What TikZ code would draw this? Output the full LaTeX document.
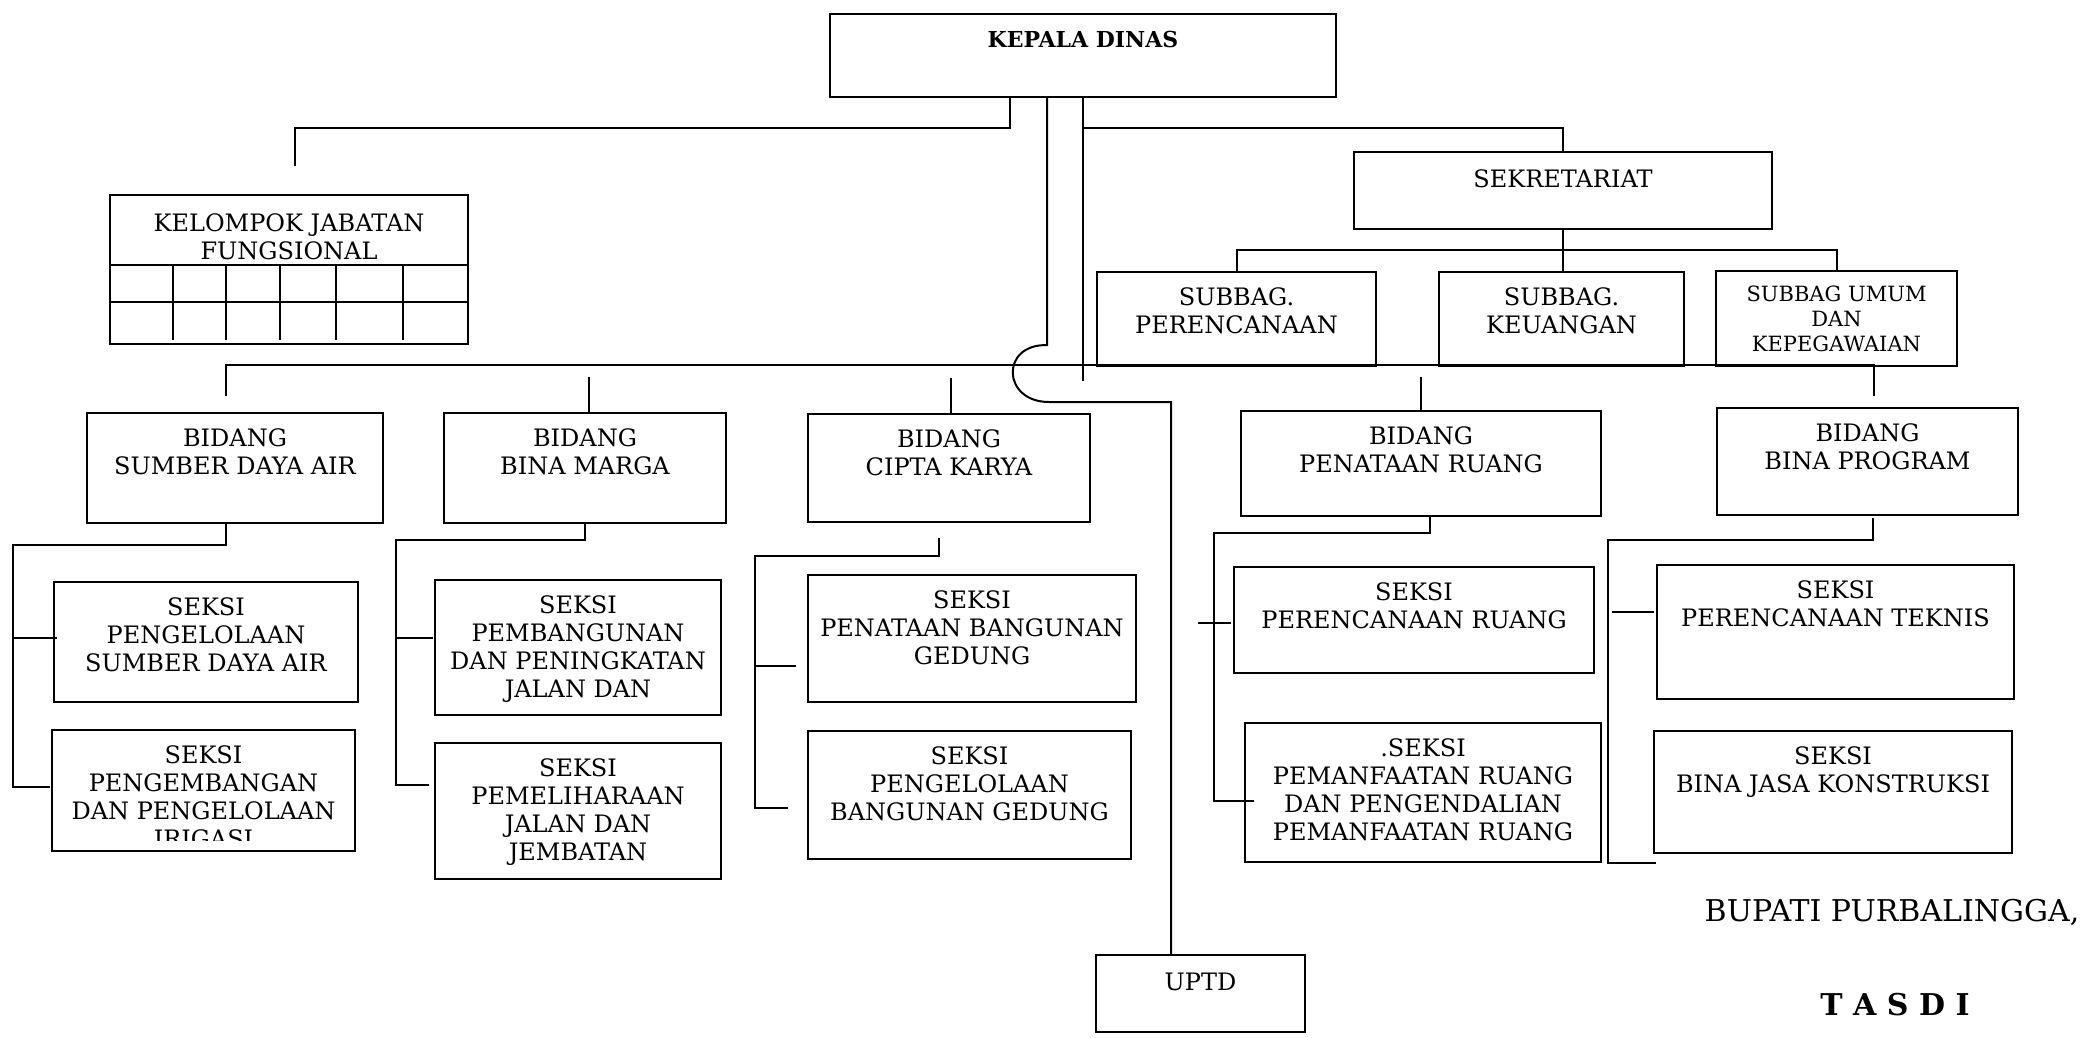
\documentclass[tikz,border=0pt]{standalone}
\usepackage{fontspec}
\setmainfont{DejaVu Serif}
\usetikzlibrary{positioning,calc}

\tikzset{
  box/.style={rectangle, draw, line width=1.1pt, inner sep=0pt},
  sz/.style 2 args={minimum width=#1*0.5pt, minimum height=#2*0.5pt},
  tx/.style={align=center, inner sep=0pt, font=\fontsize{12}{14}\selectfont, below=8pt of #1},
  con/.style={line width=1pt},
  sign/.style={inner sep=0pt, font=\fontsize{15}{18}\selectfont}
}

\begin{document}
\begin{tikzpicture}[x=0.5pt, y=-0.5pt]
\path[use as bounding box, fill=white] (0,0) rectangle (2083,1038);

% top
\node[box, sz={506}{83}] (kepala) at (1083,55.5) {};
\node[tx=kepala.north, yshift=-1pt, font=\fontsize{11}{13}\selectfont\bfseries] (kepalaT) {KEPALA DINAS};

\node[box, sz={358}{149}] (kel) at (289,269.5) {};
\node[tx=kel.north, yshift=-1.5pt] (kelT) {KELOMPOK JABATAN\\FUNGSIONAL};
\draw[con] ($(kel.north west)+(0,71)$) -- ($(kel.north east)+(0,71)$);
\draw[con] ($(kel.north west)+(0,108)$) -- ($(kel.north east)+(0,108)$);
\foreach \dx in {64,117,171,227,294}
  \draw[con] ($(kel.north west)+(\dx,71)$) -- ++(0,75);

\node[box, sz={418}{77}] (sek) at (1563,190.5) {};
\node[tx=sek.north, yshift=-1pt] (sekT) {SEKRETARIAT};

\node[box, sz={279}{94}] (sbren) at (1236.5,319) {};
\node[tx=sbren.north] (sbrenT) {SUBBAG.\\PERENCANAAN};
\node[box, sz={245}{94}] (sbkeu) at (1561.5,319) {};
\node[tx=sbkeu.north] (sbkeuT) {SUBBAG.\\KEUANGAN};
\node[box, sz={241}{95}] (sbumum) at (1836.5,318.5) {};
\node[tx=sbumum.north, font=\fontsize{10.5}{12.5}\selectfont] (sbumumT) {SUBBAG UMUM\\DAN\\KEPEGAWAIAN};

% bidang
\node[box, sz={296}{110}] (bsda) at (235,468) {};
\node[tx=bsda.north] (bsdaT) {BIDANG\\SUMBER DAYA AIR};
\node[box, sz={282}{110}] (bbm) at (585,468) {};
\node[tx=bbm.north] (bbmT) {BIDANG\\BINA MARGA};
\node[box, sz={282}{108}] (bck) at (949,468) {};
\node[tx=bck.north] (bckT) {BIDANG\\CIPTA KARYA};
\node[box, sz={360}{105}] (bpr) at (1421,463.5) {};
\node[tx=bpr.north] (bprT) {BIDANG\\PENATAAN RUANG};
\node[box, sz={301}{107}] (bbp) at (1867.5,461.5) {};
\node[tx=bbp.north] (bbpT) {BIDANG\\BINA PROGRAM};

% seksi
\node[box, sz={304}{120}] (s11) at (206,642) {};
\node[tx=s11.north] (s11T) {SEKSI\\PENGELOLAAN\\SUMBER DAYA AIR};
\node[box, sz={303}{121}] (s12) at (203.5,790.5) {};
\begin{scope}
  \clip (s12.north west) rectangle ($(s12.south east)+(0,-12)$);
  \node[tx=s12.north] (s12T) {SEKSI\\PENGEMBANGAN\\DAN PENGELOLAAN\\IRIGASI};
\end{scope}
\node[box, sz={286}{135}] (s21) at (578,647.5) {};
\node[tx=s21.north] (s21T) {SEKSI\\PEMBANGUNAN\\DAN PENINGKATAN\\JALAN DAN};
\node[box, sz={286}{136}] (s22) at (578,811) {};
\node[tx=s22.north] (s22T) {SEKSI\\PEMELIHARAAN\\JALAN DAN\\JEMBATAN};
\node[box, sz={328}{127}] (s31) at (972,638.5) {};
\node[tx=s31.north] (s31T) {SEKSI\\PENATAAN BANGUNAN\\GEDUNG};
\node[box, sz={323}{128}] (s32) at (969.5,795) {};
\node[tx=s32.north] (s32T) {SEKSI\\PENGELOLAAN\\BANGUNAN GEDUNG};
\node[box, sz={360}{106}] (s41) at (1414,620) {};
\node[tx=s41.north] (s41T) {SEKSI\\PERENCANAAN RUANG};
\node[box, sz={356}{139}] (s42) at (1423,792.5) {};
\node[tx=s42.north] (s42T) {.SEKSI\\PEMANFAATAN RUANG\\DAN PENGENDALIAN\\PEMANFAATAN RUANG};
\node[box, sz={357}{134}] (s51) at (1835.5,632) {};
\node[tx=s51.north] (s51T) {SEKSI\\PERENCANAAN TEKNIS};
\node[box, sz={358}{122}] (s52) at (1833,792) {};
\node[tx=s52.north] (s52T) {SEKSI\\BINA JASA KONSTRUKSI};

\node[box, sz={209}{77}] (uptd) at (1200.5,993.5) {};
\node[tx=uptd.north, yshift=-1.5pt] (uptdT) {UPTD};

\node[sign] (bupati) at (1892,912) {BUPATI PURBALINGGA,};
\node[sign, font=\fontsize{15}{18}\selectfont\bfseries] (tasdi) at (1895,1005) {T A S D I};

% lines from kepala
\draw[con] ($(kepala.south)+(-73,0)$) -- ++(0,30) -| ($(kel.north)+(6,-28)$);
\draw[con] (kepala.south) -- ++(0,283);
\draw[con] ($(kepala.south)+(0,30)$) -| (sek.north);
\draw[con] ($(kepala.south)+(-36,0)$) -- ++(0,247)
  .. controls (1000,344) and (1002,402) .. (1049,402) -| ($(uptd.north)+(-29.5,0)$);

% sekretariat
\draw[con] (sek.south) -- (sek.south |- sbkeu.north);
\draw[con] (sbren.north) -- ++(0,-21) -| (sbumum.north);

% bidang line
\draw[con] ($(bsda.north)+(-9,-16)$) -- ++(0,-31) -| ($(bbp.north)+(6.5,-11)$);
\draw[con] ($(bbm.north)+(4,0)$) -- ++(0,-35);
\draw[con] ($(bck.north)+(2,0)$) -- ++(0,-35);
\draw[con] (bpr.north) -- ++(0,-33);

% bidang to seksi
\draw[con] ($(bsda.south)+(-9,0)$) -- ++(0,21) -| ($(s12.west)+(-37.5,-3.5)$) -- ($(s12.west)+(-1,-3.5)$);
\draw[con] ($(s11.west)+(-40,-4)$) -- ++(44,0);
\draw[con] (bbm.south) -- ++(0,16) -| ($(s22.west)+(-38,-26)$) -- ++(33,0);
\draw[con] ($(s21.west)+(-38,-9.5)$) -- ++(37,0);
\draw[con] ($(bck.south)+(-10,15)$) -- ++(0,18) -| ($(s32.west)+(-52,13)$) -- ++(33,0);
\draw[con] ($(s31.west)+(-52,27.5)$) -- ++(41,0);
\draw[con] ($(bpr.south)+(9,0)$) -- ++(0,16) -| ($(s42.west)+(-30,8.5)$) -- ++(40,0);
\draw[con] ($(s41.west)+(-35,3)$) -- ++(33,0);
\draw[con] ($(bbp.south)+(5.5,2)$) -- ++(0,22) -| ($(s52.south west)+(-45,9)$) -- ++(48,0);
\draw[con] ($(s51.west)+(-44,-20)$) -- ++(42,0);
\end{tikzpicture}
\end{document}
